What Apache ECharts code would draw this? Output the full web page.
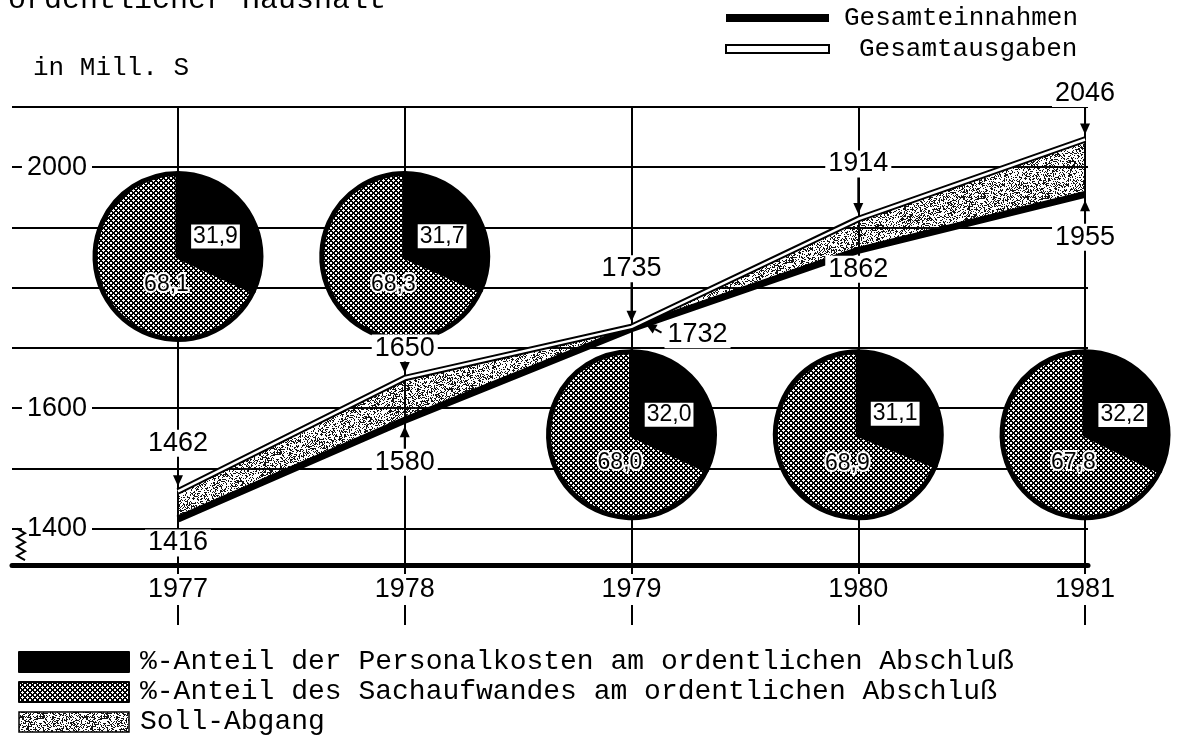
<!DOCTYPE html>
<html>
<head>
<meta charset="utf-8">
<script src="https://cdn.jsdelivr.net/npm/echarts@6/dist/echarts.min.js"></script>
<style>
  html, body { margin: 0; padding: 0; background: #fff; }
  #chart { width: 1178px; height: 749px; }
</style>
</head>
<body>
<div id="chart"></div>
<script>
// Ordentlicher Haushalt 1977–1981 (in Mill. S)
const years = [1977, 1978, 1979, 1980, 1981];
const einnahmen = [1416, 1580, 1732, 1862, 1955];      // Gesamteinnahmen
const ausgaben = [1462, 1650, 1735, 1914, 2046];       // Gesamtausgaben
const personalAnteil = [31.9, 31.7, 32.0, 31.1, 32.2]; // % Personalkosten
const sachAnteil = [68.1, 68.3, 68.0, 68.9, 67.8];     // % Sachaufwand
const yTickLabels = [1400, 1600, 2000];
const yRuleLevels = [1400, 1500, 1600, 1700, 1800, 1900, 2000, 2100];

const NAME_PERS = '%-Anteil der Personalkosten am ordentlichen Abschluß';
const NAME_SACH = '%-Anteil des Sachaufwandes am ordentlichen Abschluß';
const NAME_SOLL = 'Soll-Abgang';
const NAME_EIN = 'Gesamteinnahmen';
const NAME_AUS = 'Gesamtausgaben';

// ---- layout & style ----
const FONT_MONO = '"Liberation Mono", "DejaVu Sans Mono", monospace';
const FONT_NUM = '"Liberation Sans", Arial, sans-serif';
const PIE_LEVEL = [1852, 1852, 1556, 1556, 1556];  // vertical level of each pie centre
const PIE_RADIUS = 83;

// label / arrow placement relative to the line point (pixels)
const AUS_PLACE = [
  { dx: 0, dy: -48, arrow: [0, -36, 0, -5] },
  { dx: 0, dy: -30, arrow: [0, -18, 0, -5] },
  { dx: 0, dy: -58, arrow: [0, -45, 0, -5] },
  { dx: 0, dy: -55, arrow: [0, -42, 0, -5] },
  { dx: 0, dy: -46, arrow: [0, -33, 0, -5] }
];
const EIN_PLACE = [
  { dx: 0, dy: 24, arrow: null },
  { dx: 0, dy: 42, arrow: [0, 30, 0, 6] },
  { dx: 66, dy: 6, arrow: [30, 4, 14, -5] },
  { dx: 0, dy: 19, arrow: [0, 11, 0, 5] },
  { dx: 0, dy: 43, arrow: [0, 30, 0, 6] }
];

// crosshatch tile for the Sachaufwand share (2px diagonal rules, pitch 5)
function makeHatch() {
  const n = 5;
  const c = document.createElement('canvas');
  c.width = n; c.height = n;
  const ctx = c.getContext('2d');
  const img = ctx.createImageData(n, n);
  for (let y = 0; y < n; y++) {
    for (let x = 0; x < n; x++) {
      const ink = (x + y) % n < 2 || ((x - y) % n + n) % n < 2;
      const k = (y * n + x) * 4;
      const v = ink ? 0 : 255;
      img.data[k] = v; img.data[k + 1] = v; img.data[k + 2] = v; img.data[k + 3] = 255;
    }
  }
  ctx.putImageData(img, 0, 0);
  return c;
}

// fine grain stipple for the Soll-Abgang band (transparent between dots)
function makeStipple(opaque) {
  const n = 64;
  const c = document.createElement('canvas');
  c.width = n; c.height = n;
  const ctx = c.getContext('2d');
  const img = ctx.createImageData(n, n);
  for (let y = 0; y < n; y++) {
    for (let x = 0; x < n; x++) {
      let h = Math.imul(x, 374761393) + Math.imul(y, 668265263);
      h = Math.imul(h ^ (h >>> 13), 1274126177);
      h = ((h ^ (h >>> 16)) >>> 0) / 4294967296;
      const ink = h < 0.36;
      const k = (y * n + x) * 4;
      img.data[k] = ink ? 20 : 255;
      img.data[k + 1] = ink ? 20 : 255;
      img.data[k + 2] = ink ? 20 : 255;
      img.data[k + 3] = ink ? 255 : (opaque ? 255 : 0);
    }
  }
  ctx.putImageData(img, 0, 0);
  return c;
}

const HATCH = { image: makeHatch(), repeat: 'repeat' };
const STIPPLE = { image: makeStipple(false), repeat: 'repeat' };
const STIPPLE_BOX = { image: makeStipple(true), repeat: 'repeat' };

const pts = (vals) => years.map((y, i) => [y, vals[i]]);
const comma = (v) => v.toFixed(1).replace('.', ',');

function arrowShapes(x1, y1, x2, y2) {
  const dx = x2 - x1, dy = y2 - y1;
  const len = Math.hypot(dx, dy) || 1;
  const ux = dx / len, uy = dy / len;
  const head = 11, half = 5;
  const bx = x2 - ux * head, by = y2 - uy * head;
  const out = [{
    type: 'polygon',
    shape: { points: [[x2, y2], [bx - uy * half, by + ux * half], [bx + uy * half, by - ux * half]] },
    style: { fill: '#000' }
  }];
  if (len > head) {
    out.unshift({ type: 'line', shape: { x1: x1, y1: y1, x2: bx, y2: by }, style: { stroke: '#000', lineWidth: 2 } });
  }
  return out;
}

function valueLabels(name, vals, place) {
  return {
    type: 'custom', name: name, silent: true, z: 12,
    data: pts(vals),
    renderItem: function (params, api) {
      const i = params.dataIndex;
      const p = api.coord([api.value(0), api.value(1)]);
      const a = place[i];
      let children = [];
      if (a.arrow) {
        children = children.concat(arrowShapes(p[0] + a.arrow[0], p[1] + a.arrow[1], p[0] + a.arrow[2], p[1] + a.arrow[3]));
      }
      children.push({
        type: 'text',
        style: {
          text: String(vals[i]), x: p[0] + a.dx, y: p[1] + a.dy,
          font: '27px ' + FONT_NUM, fill: '#000', align: 'center', verticalAlign: 'middle',
          backgroundColor: '#fff', padding: [0, 3]
        }
      });
      return { type: 'group', children: children };
    }
  };
}

// band between income and expenditure (Soll-Abgang)
const sollBand = {
  id: 'soll', type: 'custom', name: NAME_SOLL, silent: true, z: 2,
  data: pts(ausgaben),
  itemStyle: { color: STIPPLE_BOX },
  renderItem: function (params, api) {
    if (params.dataIndex !== 0) return null;
    const upper = years.map((y, i) => api.coord([y, ausgaben[i]]));
    const lower = years.map((y, i) => api.coord([y, einnahmen[i]])).reverse();
    return { type: 'polygon', shape: { points: upper.concat(lower) }, style: { fill: STIPPLE } };
  }
};

const pieSeries = years.map((y, i) => ({
  id: 'pie' + y, type: 'pie', name: 'Anteile ' + y, silent: true, z: 8,
  center: [0, 0], radius: PIE_RADIUS, startAngle: 90, clockwise: true,
  avoidLabelOverlap: false,
  itemStyle: { borderColor: '#000', borderWidth: 5 },
  labelLine: { show: false },
  labelLayout: (params) => params.dataIndex === 1 ? { dx: 13, dy: 2 } : { dx: 0, dy: 2 },
  data: [
    {
      name: NAME_PERS, value: personalAnteil[i], itemStyle: { color: '#000' },
      label: {
        show: true, position: 'inside', formatter: (p) => comma(p.value),
        fontFamily: FONT_NUM, fontSize: 23, color: '#000',
        backgroundColor: '#fff', padding: [1, 2, 0, 2]
      }
    },
    {
      name: NAME_SACH, value: sachAnteil[i], itemStyle: { color: HATCH },
      label: {
        show: true, position: 'inside', formatter: (p) => comma(p.value),
        fontFamily: FONT_NUM, fontSize: 23, color: '#000',
        textBorderColor: '#fff', textBorderWidth: 4
      }
    }
  ]
}));

const option = {
  animation: false,
  backgroundColor: '#fff',
  textStyle: { fontFamily: FONT_MONO, color: '#000' },
  title: [
    { text: 'ordentlicher Haushalt', left: 8, top: -15, padding: 0,
      textStyle: { fontFamily: FONT_MONO, fontSize: 30, fontWeight: 'normal', color: '#000' } },
    { text: 'in Mill. S', left: 28, top: 50,
      textStyle: { fontFamily: FONT_MONO, fontSize: 26, fontWeight: 'normal', color: '#000' } }
  ],
  legend: [
    {
      id: 'linien', orient: 'vertical', left: 725, top: 5, padding: 0, icon: 'rect',
      itemWidth: 103, itemHeight: 8, itemGap: 5, selectedMode: false,
      textStyle: { fontFamily: FONT_MONO, fontSize: 26, color: '#000', padding: [0, 0, 0, 10] },
      data: [
        { name: NAME_EIN, itemStyle: { color: '#000' } },
        { name: NAME_AUS, itemStyle: { color: '#fff', borderColor: '#000', borderWidth: 2 },
          textStyle: { padding: [0, 0, 0, 25] } }
      ]
    },
    {
      id: 'flaechen', orient: 'vertical', left: 18, top: 648, padding: 0, icon: 'rect',
      itemWidth: 110, itemHeight: 20, itemGap: 2, selectedMode: false,
      textStyle: { fontFamily: FONT_MONO, fontSize: 28, color: '#000', padding: [0, 0, 0, 6] },
      data: [
        { name: NAME_PERS, itemStyle: { color: '#000' } },
        { name: NAME_SACH, itemStyle: { color: HATCH } },
        { name: NAME_SOLL, itemStyle: { color: STIPPLE_BOX, borderColor: '#000', borderWidth: 1.5 } }
      ]
    }
  ],
  grid: { left: 12, right: 90, top: 107, bottom: 184 },
  xAxis: {
    type: 'value', min: 1976.268, max: 1981.013,
    axisLine: { show: true, onZero: false, lineStyle: { color: '#000', width: 5 } },
    axisTick: { show: true, customValues: years, length: 60, lineStyle: { color: '#000', width: 2 } },
    axisLabel: {
      customValues: years, margin: 9, formatter: (v) => String(v),
      fontFamily: FONT_NUM, fontSize: 27, color: '#000', backgroundColor: '#fff', padding: [2, 4]
    },
    splitLine: { show: true, lineStyle: { color: '#000', width: 2 } }
  },
  yAxis: {
    type: 'value', min: 1339.7, max: 2100,
    axisLine: { show: false },
    axisTick: { show: false, customValues: yRuleLevels },
    axisLabel: {
      customValues: yTickLabels, inside: true, margin: 80, align: 'right', formatter: (v) => String(v),
      fontFamily: FONT_NUM, fontSize: 27, color: '#000', backgroundColor: '#fff', padding: [0, 5]
    },
    splitLine: { show: true, lineStyle: { color: '#000', width: 2 } }
  },
  series: [
    sollBand,
    { id: 'ein', name: NAME_EIN, type: 'line', data: pts(einnahmen), symbol: 'none', silent: true,
      lineStyle: { color: '#000', width: 7 }, itemStyle: { color: '#000' }, z: 3 },
    { id: 'aus', name: NAME_AUS, type: 'line', data: pts(ausgaben), symbol: 'none', silent: true,
      lineStyle: { color: '#000', width: 6.5 }, itemStyle: { color: '#000' }, z: 4 },
    { id: 'ausKern', name: 'Gesamtausgaben Kern', type: 'line', data: pts(ausgaben), symbol: 'none', silent: true,
      lineStyle: { color: '#fff', width: 2.5 }, z: 5 },
    valueLabels('Werte Ausgaben', ausgaben, AUS_PLACE),
    valueLabels('Werte Einnahmen', einnahmen, EIN_PLACE)
  ].concat(pieSeries)
};

const chart = echarts.init(document.getElementById('chart'), null, { renderer: 'canvas' });
chart.setOption(option);

// place the pies on the year lines and add the axis-break mark
const pieUpdate = years.map((y, i) => ({
  id: 'pie' + y,
  center: chart.convertToPixel({ gridIndex: 0 }, [y, PIE_LEVEL[i]])
}));
const yBreak = chart.convertToPixel({ gridIndex: 0 }, [1976.268, 1400])[1];
const zig = [];
for (let k = 0; k <= 7; k++) zig.push([k % 2 ? 25 : 17, yBreak + k * 4.5]);
chart.setOption({
  series: pieUpdate,
  graphic: [{ type: 'polyline', shape: { points: zig }, style: { stroke: '#000', lineWidth: 2, fill: null }, z: 20 }]
});
</script>
</body>
</html>
